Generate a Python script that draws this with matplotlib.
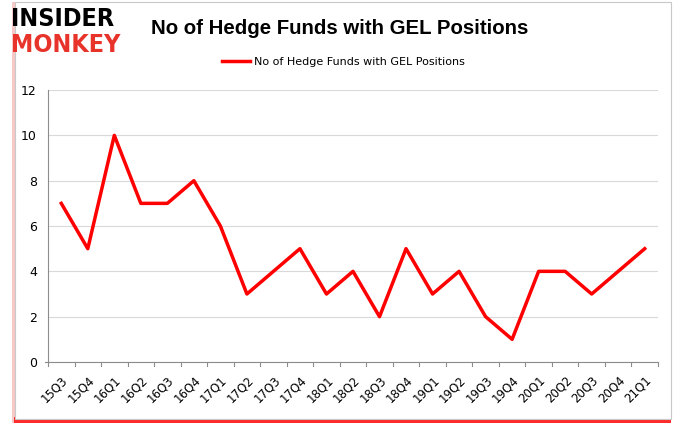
import matplotlib
matplotlib.use("agg")
import matplotlib.pyplot as plt
from matplotlib.patches import Rectangle

quarters = ["15Q3", "15Q4", "16Q1", "16Q2", "16Q3", "16Q4", "17Q1", "17Q2",
            "17Q3", "17Q4", "18Q1", "18Q2", "18Q3", "18Q4", "19Q1", "19Q2",
            "19Q3", "19Q4", "20Q1", "20Q2", "20Q3", "20Q4", "21Q1"]
funds = [7, 5, 10, 7, 7, 8, 6, 3, 4, 5, 3, 4, 2, 5, 3, 4, 2, 1, 4, 4, 3, 4, 5]
series_name = "No of Hedge Funds with GEL Positions"

fig = plt.figure(figsize=(6.8, 4.33), dpi=100)
fig.patch.set_facecolor("white")

# frame with red shadow (strong at bottom, faint on the left)
fig.patches.append(Rectangle((0.017, 0.022), 0.970, 0.973, transform=fig.transFigure,
                             facecolor="#f8c8c8", edgecolor="none", zorder=-4))
fig.patches.append(Rectangle((0.020, 0.022), 0.967, 0.015, transform=fig.transFigure,
                             facecolor="#ff2a2a", edgecolor="none", zorder=-3))
fig.patches.append(Rectangle((0.022, 0.032), 0.965, 0.963, transform=fig.transFigure,
                             facecolor="white", edgecolor="#c8c8c8", linewidth=0.8, zorder=-2))

ax = fig.add_axes([0.0706, 0.164, 0.897, 0.628])
ax.patch.set_alpha(0)
x = range(len(quarters))
ax.plot(x, funds, color="#ff0000", linewidth=2.5, label=series_name, zorder=3)

ax.set_xlim(-0.5, len(quarters) - 0.5)
ax.set_ylim(0, 12)
ax.set_yticks(range(0, 13, 2))
ax.set_xticks(list(x))
ax.set_xticklabels(quarters, rotation=45, fontsize=8.5, ha="right", rotation_mode="anchor")
ax.tick_params(axis="y", labelsize=9, length=0, pad=8)
ax.tick_params(axis="x", length=0, pad=8)
ax.grid(axis="y", color="#d9d9d9", linewidth=0.8)
ax.set_axisbelow(True)
for s in ["top", "right"]:
    ax.spines[s].set_visible(False)
ax.spines["left"].set_color("#8c8c8c")
ax.spines["bottom"].set_color("#8c8c8c")
# boundary ticks between categories
for k in range(len(quarters) + 1):
    ax.plot([k - 0.5, k - 0.5], [0, -0.18], color="#8c8c8c", linewidth=0.8, clip_on=False)
ax.plot([-0.5, -0.62], [0, 0], color="#8c8c8c", linewidth=0.8, clip_on=False)

fig.text(0.5, 0.935, series_name, ha="center", va="center", fontsize=14.7, fontweight="bold",
         fontfamily="Liberation Sans")
leg = fig.legend(loc="center", bbox_to_anchor=(0.505, 0.857), frameon=False, fontsize=8,
                 handlelength=2.5, handletextpad=0.3)

fig.text(0.016, 0.955, "INSIDER", ha="left", va="center", fontsize=18, fontweight="black",
         color="black", fontfamily="DejaVu Sans", fontstretch="condensed")
fig.text(0.016, 0.897, "MONKEY", ha="left", va="center", fontsize=18, fontweight="black",
         color="#e8332a", fontfamily="DejaVu Sans", fontstretch="condensed")

fig.savefig("out.png", dpi=100)
